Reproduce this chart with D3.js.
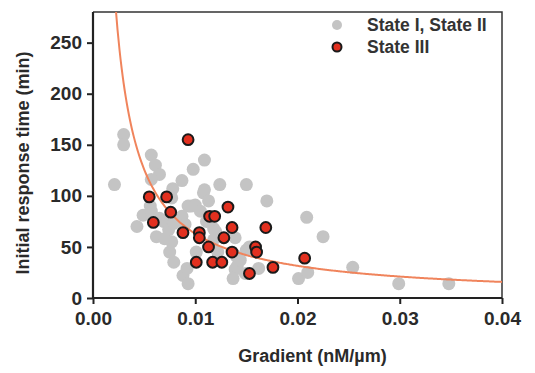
<!DOCTYPE html>
<html>
<head>
<meta charset="utf-8">
<script src="https://cdn.jsdelivr.net/npm/d3@7"></script>
<style>
  body { margin: 0; background: #fff; }
  svg { font-family: "Liberation Sans", Arial, sans-serif; }
</style>
</head>
<body>
<svg id="chart" width="535" height="373"></svg>
<script>
// State I, State II (gray) points: [gradient, time]
var grayPts = [
  [0.0021,111],[0.0030,160],[0.0030,150],[0.0043,70],[0.0049,81],[0.0056,90],
  [0.0057,85],[0.0057,140],[0.0061,130],[0.0065,121],[0.0057,116],[0.0062,60],
  [0.0065,78],[0.0069,75],[0.0070,58],[0.0074,67],[0.0075,45],[0.0077,55],
  [0.0077,98],[0.0078,107],[0.0079,73],[0.0079,35],[0.0087,115],[0.0087,80],
  [0.0088,22],[0.0090,72],[0.0092,29],[0.0093,90],[0.0093,14],[0.0096,90],
  [0.0098,126],[0.0100,91],[0.0101,45],[0.0105,85],[0.0108,103],[0.0109,135],
  [0.0109,106],[0.0111,75],[0.0113,95],[0.0118,57],[0.0118,68],[0.0120,65],
  [0.0122,45],[0.0124,111],[0.0137,19],[0.0139,28],[0.0139,59],[0.0140,41],
  [0.0141,31],[0.0144,37],[0.0149,24],[0.0150,47],[0.0150,111],[0.0153,50],
  [0.0162,29],[0.0170,95],[0.0201,19],[0.0209,79],[0.0210,25],[0.0225,60],
  [0.0254,30],[0.0299,14],[0.0348,14]
];
// State III (red) points
var redPts = [
  [0.0093,155],[0.0055,99],[0.0072,99],[0.0076,84],[0.0059,74],[0.0088,64],
  [0.0104,64],[0.0104,59],[0.0113,50],[0.0101,35],[0.0117,35],[0.0126,35],
  [0.0114,80],[0.0119,80],[0.0132,89],[0.0136,69],[0.0128,59],[0.0136,45],
  [0.0153,24],[0.0159,50],[0.0160,45],[0.0169,69],[0.0176,30],[0.0207,39]
];
var xTicks = [0, 0.01, 0.02, 0.03, 0.04];
var yTicks = [0, 50, 100, 150, 200, 250];
var fitA = 0.63; // fitted curve: time = fitA / gradient

var svg = d3.select("#chart");
var pLeft = 93, pRight = 502, pTop = 12, pBottom = 298;

var x = d3.scaleLinear().domain([0, 0.04]).range([pLeft, pRight]);
var y = d3.scaleLinear().domain([0, 280]).range([pBottom, pTop]);

// frame (top and right)
svg.append("path")
  .attr("d", "M" + pLeft + "," + pTop + "H" + pRight + "V" + pBottom)
  .attr("fill", "none").attr("stroke", "#333").attr("stroke-width", 1.5);

// clip for the curve
svg.append("clipPath").attr("id", "clip")
  .append("rect").attr("x", pLeft).attr("y", pTop)
  .attr("width", pRight - pLeft).attr("height", pBottom - pTop);

// gray points
svg.append("g").selectAll("circle").data(grayPts).enter().append("circle")
  .attr("cx", function(d) { return x(d[0]); })
  .attr("cy", function(d) { return y(d[1]); })
  .attr("r", 6.5)
  .attr("fill", "#c4c4c4");

// fit curve
var curveX = d3.range(0.0020, 0.0401, 0.0002);
var line = d3.line()
  .x(function(d) { return x(d); })
  .y(function(d) { return y(fitA / d); })
  .curve(d3.curveMonotoneX);
svg.append("path").datum(curveX)
  .attr("clip-path", "url(#clip)")
  .attr("d", line)
  .attr("fill", "none")
  .attr("stroke", "#f0845c")
  .attr("stroke-width", 2);

// red points
svg.append("g").selectAll("circle").data(redPts).enter().append("circle")
  .attr("cx", function(d) { return x(d[0]); })
  .attr("cy", function(d) { return y(d[1]); })
  .attr("r", 5.4)
  .attr("fill", "#e2301f")
  .attr("stroke", "#1a1a1a")
  .attr("stroke-width", 2);

// axes
var xAxis = svg.append("g")
  .attr("transform", "translate(0," + pBottom + ")")
  .call(d3.axisBottom(x).tickValues(xTicks).tickFormat(d3.format(".2f")).tickSize(6).tickPadding(8));
var yAxis = svg.append("g")
  .attr("transform", "translate(" + pLeft + ",0)")
  .call(d3.axisLeft(y).tickValues(yTicks).tickSize(6).tickPadding(5));

[xAxis, yAxis].forEach(function(a) {
  a.select(".domain").attr("stroke", "#222").attr("stroke-width", 2.2);
  a.selectAll(".tick line").attr("stroke", "#222").attr("stroke-width", 2);
  a.selectAll(".tick text")
    .attr("font-size", 19).attr("font-weight", "bold").attr("fill", "#2a2a2a")
    .attr("font-family", "Liberation Sans, Arial, sans-serif");
});
// axis lines without end caps
xAxis.select(".domain").attr("d", "M" + pLeft + ",0H" + pRight);
yAxis.select(".domain").attr("d", "M0," + pBottom + "V" + pTop);

// axis titles
svg.append("text")
  .attr("x", (pLeft + pRight) / 2 + 15).attr("y", 362)
  .attr("text-anchor", "middle")
  .attr("font-size", 18).attr("font-weight", "bold").attr("fill", "#2a2a2a")
  .text("Gradient (nM/\u00b5m)");
svg.append("text")
  .attr("transform", "translate(29," + ((pTop + pBottom) / 2 + 8) + ") rotate(-90)")
  .attr("text-anchor", "middle")
  .attr("font-size", 18).attr("font-weight", "bold").attr("fill", "#2a2a2a")
  .text("Initial response time (min)");

// legend
var legend = [
  { label: "State I, State II", fill: "#c4c4c4", stroke: "none" },
  { label: "State III", fill: "#e2301f", stroke: "#1a1a1a" }
];
var lg = svg.append("g").selectAll("g").data(legend).enter().append("g")
  .attr("transform", function(d, i) { return "translate(337," + (25 + i * 22) + ")"; });
lg.append("circle")
  .attr("r", function(d, i) { return i === 0 ? 5 : 4.5; })
  .attr("fill", function(d) { return d.fill; })
  .attr("stroke", function(d) { return d.stroke; })
  .attr("stroke-width", 2);
lg.append("text")
  .attr("x", 30).attr("dy", "0.35em")
  .attr("font-size", 17.5).attr("font-weight", "bold").attr("fill", "#333")
  .text(function(d) { return d.label; });
</script>
</body>
</html>
